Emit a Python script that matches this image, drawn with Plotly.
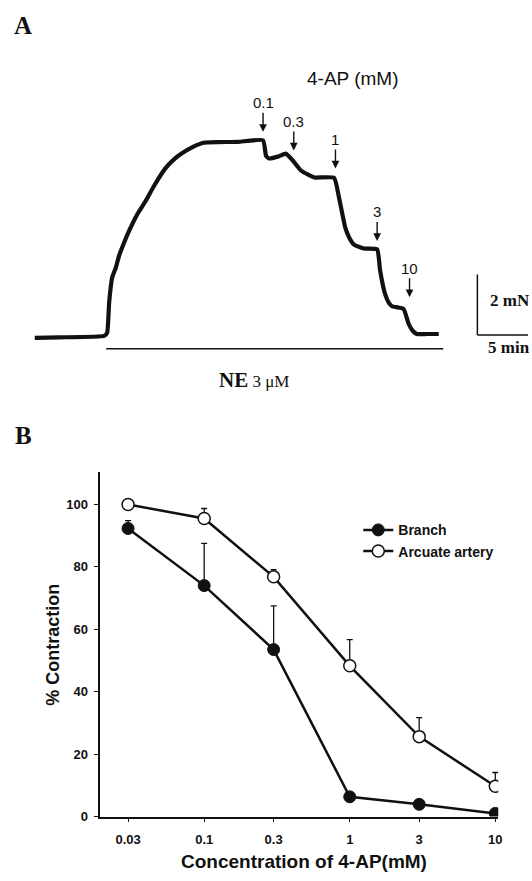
import plotly.graph_objects as go

# ---------------- Panel A data: isometric tension trace ----------------
trace_time = [0.0, 2.08, 5.83, 6.08, 6.25, 6.5, 6.81, 7.08, 7.5, 7.92, 8.58, 9.31, 10.0,
              10.97, 11.67, 12.33, 13.33, 14.17, 15.42, 17.08, 19.17, 19.42, 19.67, 20.42,
              21.08, 21.67, 22.33, 22.92, 23.47, 25.14, 25.56, 26.08, 26.42, 26.81, 27.64,
              28.75, 29.0, 29.42, 29.75, 30.0, 30.97, 31.39, 31.75, 32.08, 32.92, 33.92]
trace_force = [-0.10, -0.08, -0.03, 0.07, 1.08, 1.90, 2.23, 2.62, 3.05, 3.44, 3.97, 4.43, 4.92,
               5.51, 5.80, 6.00, 6.23, 6.36, 6.38, 6.39, 6.44, 5.93, 5.84, 5.90,
               6.00, 5.77, 5.45, 5.31, 5.21, 5.20, 4.52, 3.54, 3.21, 2.99, 2.86,
               2.83, 2.13, 1.35, 1.05, 0.95, 0.86, 0.37, 0.13, 0.03, 0.03, 0.03]
dose_labels = ["0.1", "0.3", "1", "3", "10"]
dose_time = [19.17, 21.75, 25.25, 28.75, 31.47]
dose_tip_force = [6.72, 6.10, 5.51, 3.11, 1.25]
ne_on, ne_off = 6.0, 34.3
scale_force_mN = 2
scale_time_min = 5

# ---------------- Panel B data: concentration-response ----------------
conc = [0.03, 0.1, 0.3, 1, 3, 10]
conc_labels = ["0.03", "0.1", "0.3", "1", "3", "10"]
branch = [92.3, 74.0, 53.5, 6.3, 3.9, 1.0]
branch_sem = [2.5, 13.5, 14.0, 0.0, 0.0, 0.0]
arcuate = [100.0, 95.5, 76.8, 48.3, 25.6, 9.7]
arcuate_sem = [0.0, 3.2, 2.3, 8.4, 6.1, 4.4]
y_ticks = [0, 20, 40, 60, 80, 100]

# ---------------- layout geometry ----------------
W, H = 532, 881
SANS = "Liberation Sans, Arial, sans-serif"
SERIF = "Liberation Serif, Times New Roman, serif"
BLACK = "#111111"

# panel A axis: pixel mapping
PX_MIN = 12.0      # px per minute
PX_MN = 30.5       # px per mN
X0, Y0 = 35.0, 338.0   # pixel location of t=0, F=0
A_TOP, A_BOT = 0.0, 440.5
xa_range = [(0 - X0) / PX_MIN, (W - X0) / PX_MIN]
ya_range = [(Y0 - A_BOT) / PX_MN, (Y0 - A_TOP) / PX_MN]


def px(xp, yp):
    return xp / W, 1 - yp / H


fig = go.Figure()

fig.add_trace(go.Scatter(
    x=trace_time, y=trace_force, mode="lines",
    line=dict(color=BLACK, width=4.2, shape="spline", smoothing=0.4),
    xaxis="x", yaxis="y", showlegend=False, hoverinfo="skip"))

# panel B traces
fig.add_trace(go.Scatter(
    x=conc, y=branch, mode="lines+markers", name="Branch",
    line=dict(color=BLACK, width=2.5),
    marker=dict(symbol="circle", size=12, color=BLACK, line=dict(color=BLACK, width=1)),
    error_y=dict(type="data", symmetric=False, array=branch_sem,
                 arrayminus=[0] * len(branch_sem), color=BLACK, thickness=1.3, width=3),
    xaxis="x2", yaxis="y2"))
fig.add_trace(go.Scatter(
    x=conc, y=arcuate, mode="lines+markers", name="Arcuate artery",
    line=dict(color=BLACK, width=2.5),
    marker=dict(symbol="circle", size=12, color="white", line=dict(color=BLACK, width=1.5)),
    error_y=dict(type="data", symmetric=False, array=arcuate_sem,
                 arrayminus=[0] * len(arcuate_sem), color=BLACK, thickness=1.3, width=3),
    xaxis="x2", yaxis="y2"))

annotations = []
# dose arrows
for lab, t, f in zip(dose_labels, dose_time, dose_tip_force):
    annotations.append(dict(
        x=t, y=f, xref="x", yref="y", text=lab, showarrow=True,
        ax=0, ay=-29, arrowhead=2, arrowsize=1.1, arrowwidth=1.4, arrowcolor=BLACK,
        font=dict(family=SANS, size=15, color=BLACK)))


def paper_text(xp, yp, text, font, **kw):
    x, y = px(xp, yp)
    d = dict(x=x, y=y, xref="paper", yref="paper", text=text, showarrow=False,
             xanchor="center", yanchor="middle", font=font)
    d.update(kw)
    annotations.append(d)


paper_text(355, 79, "4-AP (mM)", dict(family=SANS, size=19, color=BLACK))
paper_text(23, 26, "<b>A</b>", dict(family=SERIF, size=25, color=BLACK))
paper_text(24, 439, "<b>B</b>", dict(family=SERIF, size=25, color=BLACK))

# scale bar labels
sb_t = (481 - X0) / PX_MIN
annotations.append(dict(x=sb_t + 0.9, y=scale_force_mN * 0.57, xref="x", yref="y",
                        text="<b>2 mN</b>", showarrow=False, xanchor="left", yanchor="middle",
                        font=dict(family=SERIF, size=17, color=BLACK)))
annotations.append(dict(x=sb_t + 0.75, y=-0.42, xref="x", yref="y",
                        text="<b>5 min</b>", showarrow=False, xanchor="left", yanchor="middle",
                        font=dict(family=SERIF, size=17, color=BLACK)))
# NE label
annotations.append(dict(x=18.4, y=-1.5, xref="x", yref="y",
                        text="<b>NE</b><span style='font-size:17px'> 3 \u03bcM</span>",
                        showarrow=False, xanchor="center", yanchor="middle",
                        font=dict(family=SERIF, size=21, color=BLACK)))

# axis titles panel B
paper_text(53, 651, "<b>% Contraction</b>", dict(family=SANS, size=18, color=BLACK),
           textangle=-90)
paper_text(306, 869, "<b>Concentration of 4-AP(mM)</b>", dict(family=SANS, size=19, color=BLACK))

shapes = [
    # scale bar
    dict(type="line", xref="x", yref="y", x0=sb_t, x1=sb_t, y0=0, y1=scale_force_mN,
         line=dict(color=BLACK, width=1.5)),
    dict(type="line", xref="x", yref="y", x0=sb_t, x1=sb_t + scale_time_min, y0=0, y1=0,
         line=dict(color=BLACK, width=1.5)),
    # NE application bar
    dict(type="line", xref="x", yref="y", x0=ne_on, x1=ne_off, y0=-0.46, y1=-0.46,
         line=dict(color=BLACK, width=1.5)),
]

# panel B geometry (pixels)
BX0, BX1 = 101, 502
BY_TOP, BY_BOT = 476, 824
xb_range = [-1.714, 1.02]
yb_range = [0, 110.5]

fig.update_layout(
    width=W, height=H, autosize=False,
    margin=dict(l=0, r=0, t=0, b=0),
    paper_bgcolor="white", plot_bgcolor="rgba(0,0,0,0)",
    xaxis=dict(domain=[0, 1], range=xa_range, visible=False, fixedrange=True),
    yaxis=dict(domain=[1 - A_BOT / H, 1], range=ya_range, visible=False, fixedrange=True),
    xaxis2=dict(domain=[BX0 / W, BX1 / W], range=xb_range, type="log", anchor="y2",
                tickvals=conc, ticktext=conc_labels, ticks="outside", ticklen=4,
                tickwidth=1.2, tickcolor=BLACK, showline=True, linecolor=BLACK, linewidth=1.5,
                showgrid=False, zeroline=False, ticklabelstandoff=6,
                tickfont=dict(family=SANS, size=13, color=BLACK, weight="bold")),
    yaxis2=dict(domain=[1 - BY_BOT / H, 1 - BY_TOP / H], range=yb_range, anchor="x2",
                tickvals=y_ticks, ticks="outside", ticklen=4, tickwidth=1.2, tickcolor=BLACK,
                showline=True, linecolor=BLACK, linewidth=1.5, showgrid=False, zeroline=False,
                ticklabelstandoff=4,
                tickfont=dict(family=SANS, size=13, color=BLACK, weight="bold")),
    legend=dict(x=361 / W, y=1 - 519 / H, xanchor="left", yanchor="top",
                bgcolor="rgba(0,0,0,0)", borderwidth=0, tracegroupgap=0,
                font=dict(family=SANS, size=14, color=BLACK, weight="bold")),
    annotations=annotations, shapes=shapes,
)

fig.write_html("out.html")
